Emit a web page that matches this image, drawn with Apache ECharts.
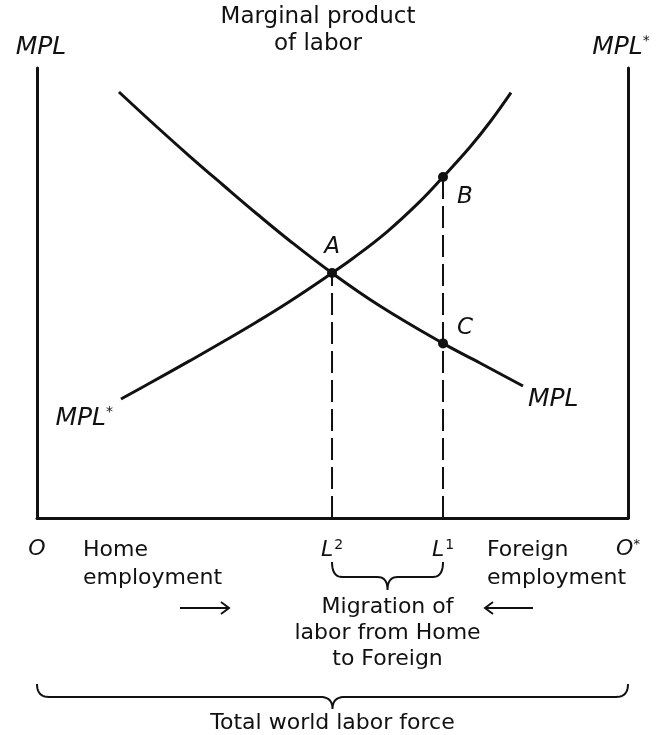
<!DOCTYPE html>
<html>
<head>
<meta charset="utf-8">
<title>Marginal product of labor</title>
<script src="https://cdn.jsdelivr.net/npm/echarts@6/dist/echarts.min.js"></script>
<style>
  html, body { margin: 0; padding: 0; background: #fff; }
  #chart { width: 659px; height: 735px; }
</style>
</head>
<body>
<div id="chart"></div>
<script>
// Labor on the horizontal axis (0 = Home origin O, 100 = Foreign origin O*),
// marginal product of labor on the vertical axis.
const mplHome = [
  [13.87, 94.67], [20.30, 86.89], [25.89, 80.33], [31.47, 74.00], [37.23, 67.56],
  [42.81, 61.56], [49.92, 54.44], [58.04, 47.11], [68.70, 38.80], [74.96, 34.44], [82.23, 29.33]
];
const mplForeign = [
  [14.21, 26.44], [19.12, 30.00], [25.89, 34.96], [31.47, 39.16], [37.23, 43.62],
  [42.81, 48.18], [49.92, 54.44], [53.47, 57.71], [59.22, 63.60], [64.81, 70.36],
  [68.70, 75.78], [73.27, 82.44], [76.65, 88.00], [80.20, 94.53]
];
const laborL2 = 49.92;   // employment after migration
const laborL1 = 68.70;   // employment before migration
const pointA = [laborL2, 54.44];
const pointB = [laborL1, 75.78];
const pointC = [laborL1, 38.80];
const laborMin = 0;
const laborMax = 100;
const mplMax = 100;
const axisTicks = [laborMin, laborL2, laborL1, laborMax];
const axisTickText = ['{i|O}', '{i|L}{sup|2}', '{i|L}{sup|1}', '{i|O}{star|*}'];

const FONT = 'DejaVu Sans';
const INK = '#111';

const chart = echarts.init(document.getElementById('chart'), null, { renderer: 'canvas' });

const italicRich = {
  i: { fontFamily: FONT, fontStyle: 'italic', fontSize: 22, color: INK },
  sup: { fontFamily: FONT, fontSize: 14, color: INK, verticalAlign: 'top', padding: [0, 0, 10, 1] },
  star: { fontFamily: FONT, fontSize: 13, color: INK, verticalAlign: 'top', padding: [0, 0, 10, 0] }
};

const option = {
  backgroundColor: '#fff',
  animation: false,
  grid: { left: 37, right: 31, top: 68, bottom: 217, containLabel: false },
  xAxis: {
    type: 'value', min: laborMin, max: laborMax,
    axisLine: { show: true, onZero: false, lineStyle: { color: INK, width: 3 } },
    axisTick: { show: false },
    splitLine: { show: false },
    axisLabel: {
      show: true,
      customValues: axisTicks,
      margin: 20,
      formatter: function (v) {
        const k = axisTicks.indexOf(v);
        return k >= 0 ? axisTickText[k] : '';
      },
      rich: italicRich
    }
  },
  yAxis: [
    {
      type: 'value', min: 0, max: mplMax, position: 'left',
      axisLine: { show: true, onZero: false, lineStyle: { color: INK, width: 3 } },
      axisTick: { show: false }, axisLabel: { show: false }, splitLine: { show: false }
    },
    {
      type: 'value', min: 0, max: mplMax, position: 'right',
      axisLine: { show: true, onZero: false, lineStyle: { color: INK, width: 3 } },
      axisTick: { show: false }, axisLabel: { show: false }, splitLine: { show: false }
    }
  ],
  series: [
    {
      name: 'MPL', type: 'line', data: mplHome,
      smooth: 0.4, showSymbol: false,
      lineStyle: { color: INK, width: 3 }
    },
    {
      name: 'MPL*', type: 'line', data: mplForeign,
      smooth: 0.4, showSymbol: false,
      lineStyle: { color: INK, width: 3 }
    },
    {
      name: 'L2 drop', type: 'line', data: [[laborL2, 0], pointA],
      showSymbol: false,
      lineStyle: { color: INK, width: 2, type: [22, 7] }
    },
    {
      name: 'L1 drop', type: 'line', data: [[laborL1, 0], pointB],
      showSymbol: false,
      lineStyle: { color: INK, width: 2, type: [22, 7] }
    },
    {
      name: 'points', type: 'scatter', symbolSize: 10, z: 5,
      itemStyle: { color: INK, opacity: 1 },
      label: { show: true, fontFamily: FONT, fontStyle: 'italic', fontSize: 23, color: INK, opacity: 1 },
      data: [
        { value: pointA, label: { formatter: 'A', position: 'top', distance: 9 } },
        { value: pointB, label: { formatter: 'B', position: 'right', offset: [4, 20] } },
        { value: pointC, label: { formatter: 'C', position: 'right', offset: [4, -15] } }
      ]
    },
    {
      name: 'curve names', type: 'scatter', symbolSize: 0, z: 5,
      itemStyle: { opacity: 1 },
      label: {
        show: true, color: INK, opacity: 1,
        rich: {
          m: { fontFamily: FONT, fontStyle: 'italic', fontSize: 25, color: INK },
          star: { fontFamily: FONT, fontSize: 14, color: INK, verticalAlign: 'top', padding: [0, 0, 12, 0] }
        }
      },
      data: [
        { value: mplForeign[0], label: { formatter: '{m|MPL}{star|*}', position: 'left', distance: 8, offset: [0, 19] } },
        { value: mplHome[mplHome.length - 1], label: { formatter: '{m|MPL}', position: 'right', distance: 5, offset: [0, 13] } }
      ]
    }
  ]
};

chart.setOption(option);

// Annotations placed from the axis scales.
function px(x, y) { return chart.convertToPixel({ gridIndex: 0 }, [x, y]); }

// Curly brace as a polyline: quadratic corners at both ends and a pointed middle.
function bracePoints(x1, x2, yEnd, yBar, yTip, r) {
  const xm = (x1 + x2) / 2;
  const pts = [];
  const quad = (p0, c, p1) => {
    for (let i = 0; i <= 10; i++) {
      const t = i / 10, u = 1 - t;
      pts.push([u * u * p0[0] + 2 * u * t * c[0] + t * t * p1[0],
                u * u * p0[1] + 2 * u * t * c[1] + t * t * p1[1]]);
    }
  };
  quad([x1, yEnd], [x1, yBar], [x1 + r, yBar]);
  quad([xm - r, yBar], [xm, yBar], [xm, yTip]);
  quad([xm, yTip], [xm, yBar], [xm + r, yBar]);
  quad([x2 - r, yBar], [x2, yBar], [x2, yEnd]);
  return pts;
}

const pO = px(laborMin, 0);
const pTop = px(laborMin, mplMax);
const pOs = px(laborMax, 0);
const pL2 = px(laborL2, 0);
const pL1 = px(laborL1, 0);
const midLabor = (pL2[0] + pL1[0]) / 2;
const midWorld = (pO[0] + pOs[0]) / 2;

const textStyle = (extra) => Object.assign({ fill: INK, fontFamily: FONT, fontSize: 22 }, extra);
const stroke = { stroke: INK, lineWidth: 2, fill: null };

chart.setOption({
  graphic: [
    { type: 'text', style: textStyle({ text: 'Marginal product\nof labor', x: 318, y: 4, align: 'center', verticalAlign: 'top', fontSize: 23, lineHeight: 27 }) },
    { type: 'text', style: textStyle({ text: 'MPL', x: pTop[0] + 4, y: pTop[1] - 8, align: 'center', verticalAlign: 'bottom', fontStyle: 'italic', fontSize: 25 }) },
    {
      type: 'text',
      style: {
        text: '{m|MPL}{s|*}', x: pOs[0] - 7, y: pTop[1] - 8, align: 'center', verticalAlign: 'bottom',
        rich: {
          m: { fontFamily: FONT, fontStyle: 'italic', fontSize: 25, fill: INK },
          s: { fontFamily: FONT, fontSize: 14, fill: INK, verticalAlign: 'top', padding: [0, 0, 12, 0] }
        }
      }
    },
    { type: 'text', style: textStyle({ text: 'Home\nemployment', x: 83, y: 536, align: 'left', verticalAlign: 'top', lineHeight: 28 }) },
    { type: 'text', style: textStyle({ text: 'Foreign\nemployment', x: 487, y: 536, align: 'left', verticalAlign: 'top', lineHeight: 28 }) },
    { type: 'line', shape: { x1: 180, y1: 608, x2: 229, y2: 608 }, style: stroke },
    { type: 'polyline', shape: { points: [[221, 602], [229, 608], [221, 614]] }, style: stroke },
    { type: 'line', shape: { x1: 485, y1: 608, x2: 533, y2: 608 }, style: stroke },
    { type: 'polyline', shape: { points: [[493, 602], [485, 608], [493, 614]] }, style: stroke },
    { type: 'polyline', shape: { points: bracePoints(pL2[0], pL1[0], 562, 577, 590, 10) }, style: stroke },
    { type: 'text', style: textStyle({ text: 'Migration of\nlabor from Home\nto Foreign', x: midLabor, y: 594, align: 'center', verticalAlign: 'top', lineHeight: 26 }) },
    { type: 'polyline', shape: { points: bracePoints(pO[0], pOs[0], 684, 697, 709, 12) }, style: stroke },
    { type: 'text', style: textStyle({ text: 'Total world labor force', x: midWorld, y: 710, align: 'center', verticalAlign: 'top', lineHeight: 26 }) }
  ]
});
</script>
</body>
</html>
